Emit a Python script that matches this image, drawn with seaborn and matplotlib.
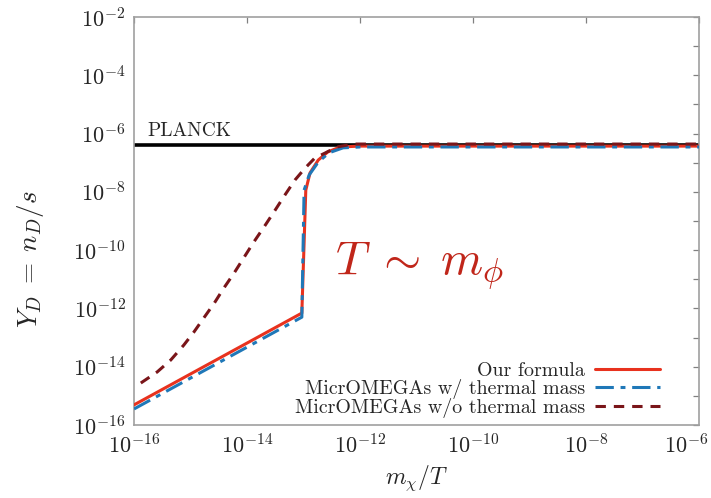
import numpy as np
import pandas as pd
import matplotlib
matplotlib.use("Agg")
import matplotlib.pyplot as plt
import matplotlib.ticker as mticker
import matplotlib.transforms as mtrans
import seaborn as sns

# --- data (log10 values) ---
ours_logx = [-16.0, -13.03, -12.96, -12.885, -12.74, -12.57, -12.35, -12.0, -6.0]
ours_logy = [-15.31, -12.16, -7.94, -7.35, -6.91, -6.63, -6.46, -6.43, -6.43]

thermal_logx = [-16.0, -13.03, -12.99, -12.90, -12.74, -12.55, -12.30, -12.0, -6.0]
thermal_logy = [-15.45, -12.30, -7.94, -7.42, -6.98, -6.66, -6.49, -6.46, -6.46]

nothermal_logx = [-15.88, -15.59, -15.35, -15.12, -14.94, -14.73, -14.58, -14.41,
                  -14.23, -14.05, -13.89, -13.68, -13.50, -13.33, -13.15, -12.97,
                  -12.80, -12.62, -12.41, -12.12, -6.0]
nothermal_logy = [-14.56, -14.18, -13.77, -13.26, -12.81, -12.23, -11.82, -11.30,
                  -10.79, -10.24, -9.75, -9.15, -8.62, -8.11, -7.59, -7.18,
                  -6.84, -6.67, -6.46, -6.36, -6.36]

planck_y = 4.0e-7
labels = ["Our formula", "MicrOMEGAs w/ thermal mass", "MicrOMEGAs w/o thermal mass"]

df = pd.concat([
    pd.DataFrame({"x": 10.0 ** np.array(ours_logx), "y": 10.0 ** np.array(ours_logy), "curve": labels[0]}),
    pd.DataFrame({"x": 10.0 ** np.array(thermal_logx), "y": 10.0 ** np.array(thermal_logy), "curve": labels[1]}),
    pd.DataFrame({"x": 10.0 ** np.array(nothermal_logx), "y": 10.0 ** np.array(nothermal_logy), "curve": labels[2]}),
], ignore_index=True)

# --- style ---
sns.set_style("white")
plt.rcParams["font.family"] = ["serif"]
plt.rcParams["font.serif"] = ["cmr10", "DejaVu Serif"]
plt.rcParams["mathtext.fontset"] = "cm"
plt.rcParams["axes.formatter.use_mathtext"] = True

fig = plt.figure(figsize=(7.11, 4.98), dpi=100)
ax = fig.add_axes([0.1885, 0.1466, 0.7947, 0.8193])

ax.axhline(planck_y, color="black", lw=2.6, zorder=1)

palette = {labels[0]: "#e8321e", labels[1]: "#1f78b8", labels[2]: "#7a1519"}
dashes = {labels[0]: "", labels[1]: (6, 2.2, 1.6, 2.2), labels[2]: (3.4, 2.6)}
sns.lineplot(data=df, x="x", y="y", hue="curve", style="curve", palette=palette,
             dashes=dashes, estimator=None, sort=False, lw=2.2, ax=ax, zorder=3)

ax.set_xscale("log")
ax.set_yscale("log")
ax.set_xlim(1e-16, 1e-6)
ax.set_ylim(1e-16, 1e-2)

ax.xaxis.set_major_locator(mticker.FixedLocator([10.0 ** k for k in range(-16, -5, 2)]))
ax.xaxis.set_minor_locator(mticker.NullLocator())
ax.yaxis.set_major_locator(mticker.FixedLocator([10.0 ** k for k in range(-16, -1, 2)]))
ax.yaxis.set_minor_locator(mticker.FixedLocator([10.0 ** k for k in range(-15, -2, 2)]))
ax.yaxis.set_minor_formatter(mticker.NullFormatter())

ax.tick_params(which="both", direction="in", top=True, right=True, length=4.5,
               width=0.9, color="#808080", labelsize=16, pad=6)
for s in ax.spines.values():
    s.set_color("#a0a0a0")
    s.set_linewidth(1.2)

# keep the last x tick label inside the figure
last = ax.xaxis.get_major_ticks()[-1].label1
last.set_transform(last.get_transform() + mtrans.ScaledTranslation(-0.13, 0, fig.dpi_scale_trans))

ax.set_xlabel(r"$m_\chi/T$", fontsize=17, labelpad=4)
ax.set_ylabel(r"$Y_D\; = \;n_D/s$", fontsize=19.5)
ax.yaxis.set_label_coords(-0.155, 0.405)

ax.text(1.7e-16, 6.0e-7, "PLANCK", fontsize=14, ha="left", va="bottom")
ax.text(3.6e-13, 1.4e-11, r"$T\;\sim\;m_\phi$", fontsize=34.5, color="#c0261a",
        ha="left", va="baseline")

leg = ax.legend(loc="lower right", bbox_to_anchor=(0.963, -0.028), frameon=False,
                markerfirst=False, fontsize=14.4, handlelength=3.25,
                labelspacing=-0.05, handletextpad=0.5)

plt.savefig("out.png", dpi=100)
